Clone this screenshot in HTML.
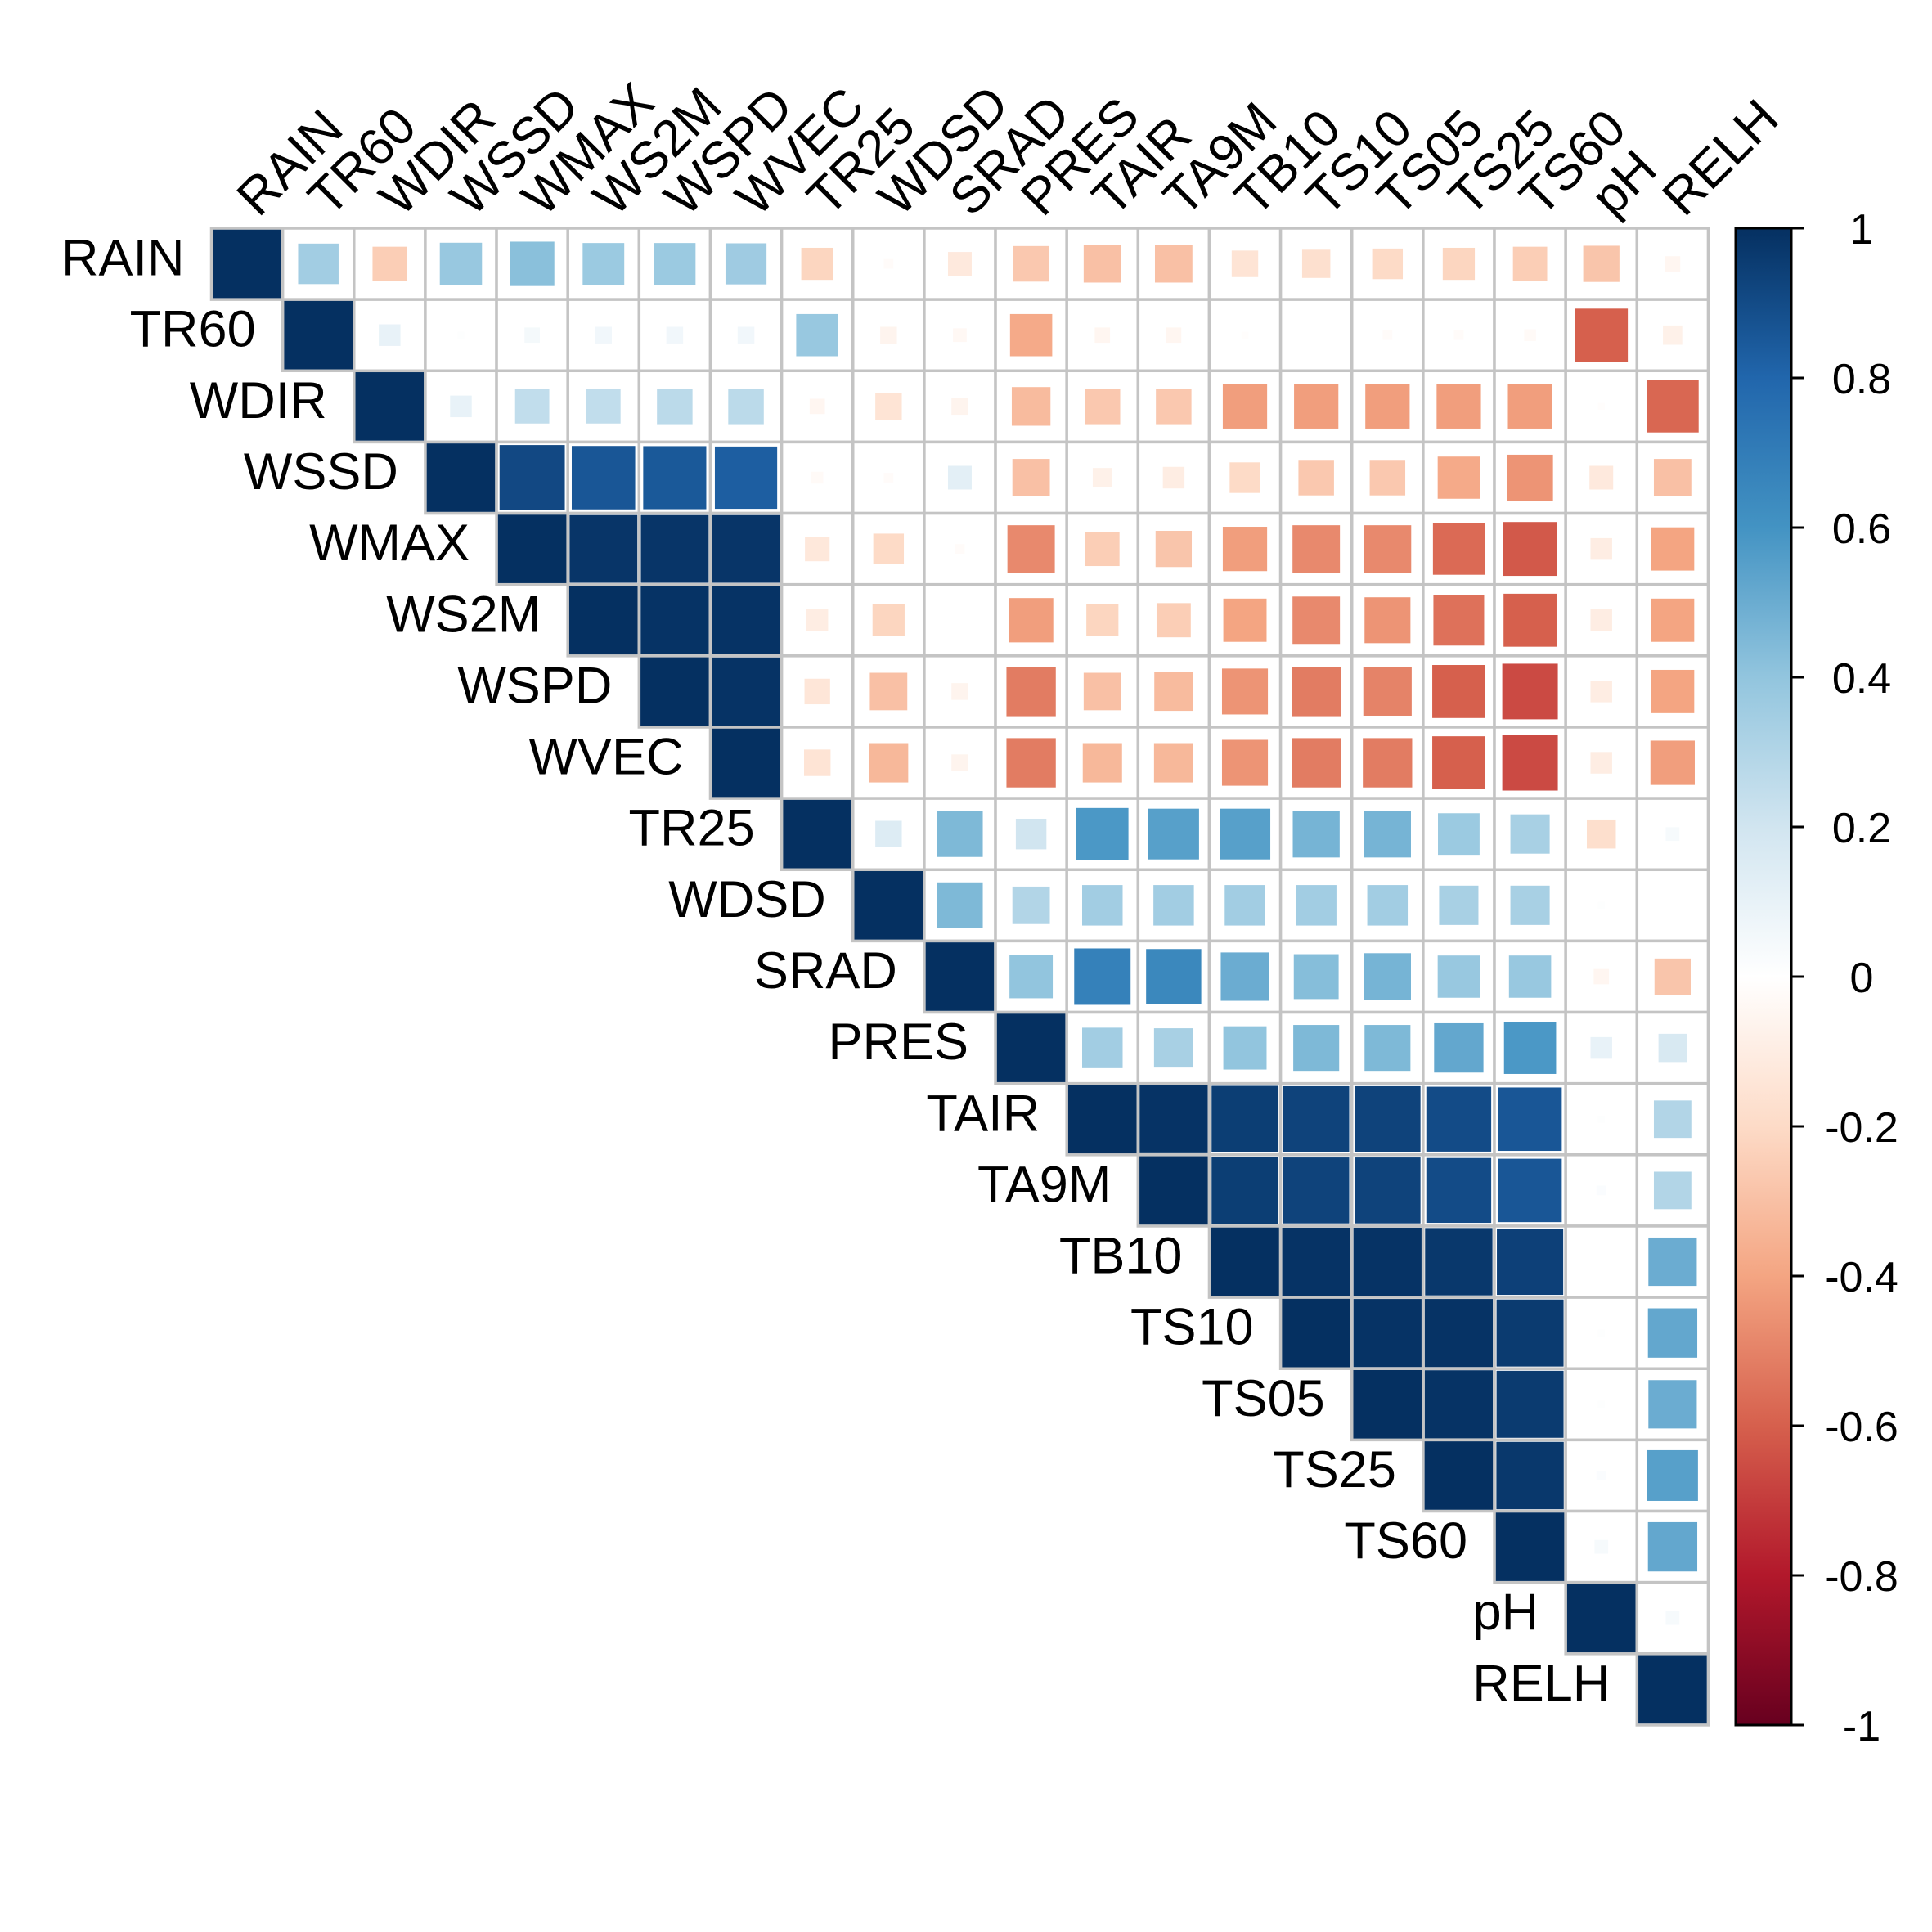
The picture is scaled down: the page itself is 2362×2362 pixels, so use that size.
<!DOCTYPE html>
<html><head><meta charset="utf-8"><style>
html,body{margin:0;padding:0;background:#fff;}
svg{display:block;font-family:"Liberation Sans",Arial,sans-serif;}
</style></head><body>
<svg id="chart" width="2362" height="2362" viewBox="0 0 2362 2362" xmlns="http://www.w3.org/2000/svg">
<defs><linearGradient id="cbgrad" x1="0" y1="1" x2="0" y2="0">
<stop offset="0" stop-color="#67001F"/><stop offset="0.1" stop-color="#B2182B"/><stop offset="0.2" stop-color="#D6604D"/><stop offset="0.3" stop-color="#F4A582"/><stop offset="0.4" stop-color="#FDDBC7"/><stop offset="0.5" stop-color="#FFFFFF"/><stop offset="0.6" stop-color="#D1E5F0"/><stop offset="0.7" stop-color="#92C5DE"/><stop offset="0.8" stop-color="#4393C3"/><stop offset="0.9" stop-color="#2166AC"/><stop offset="1" stop-color="#053061"/>
</linearGradient></defs>
<g id="cells"></g>
<g id="rowlabels"></g>
<g id="collabels"></g>
<g id="colorbar"></g>
</svg>
<script>
const vars = ["RAIN","TR60","WDIR","WSSD","WMAX","WS2M","WSPD","WVEC","TR25","WDSD","SRAD","PRES","TAIR","TA9M","TB10","TS10","TS05","TS25","TS60","pH","RELH"];
// upper triangle rows (values to the right of the diagonal)
const rowRAIN = [0.35,-0.25,0.38,0.42,0.37,0.37,0.36,-0.22,-0.02,-0.12,-0.27,-0.3,-0.3,-0.15,-0.17,-0.2,-0.22,-0.25,-0.28,-0.05];
const rowTR60 = [0.1,0.01,0.05,0.06,0.06,0.06,0.38,-0.06,-0.04,-0.38,-0.05,-0.05,-0.01,0,-0.02,-0.02,-0.03,-0.6,-0.08];
const rowWDIR = [0.1,0.25,0.25,0.27,0.27,-0.05,-0.15,-0.06,-0.32,-0.27,-0.27,-0.42,-0.42,-0.42,-0.42,-0.42,-0.01,-0.58];
const rowWSSD = [0.91,0.86,0.85,0.83,-0.03,-0.02,0.12,-0.3,-0.08,-0.1,-0.2,-0.27,-0.27,-0.38,-0.45,-0.12,-0.3];
const rowWMAX = [0.98,0.98,0.98,-0.13,-0.2,-0.02,-0.48,-0.25,-0.28,-0.42,-0.48,-0.48,-0.57,-0.62,-0.1,-0.4];
const rowWS2M = [0.99,0.99,-0.1,-0.22,0,-0.42,-0.22,-0.25,-0.4,-0.48,-0.45,-0.55,-0.6,-0.1,-0.4];
const rowWSPD = [0.99,-0.14,-0.3,-0.06,-0.52,-0.3,-0.32,-0.45,-0.52,-0.5,-0.6,-0.66,-0.1,-0.4];
const rowWVEC = [-0.15,-0.33,-0.06,-0.52,-0.33,-0.33,-0.45,-0.52,-0.52,-0.6,-0.66,-0.1,-0.42];
const rowTR25 = [0.15,0.45,0.2,0.58,0.55,0.55,0.47,0.47,0.37,0.33,-0.18,0.04];
const rowWDSD = [0.45,0.3,0.35,0.35,0.35,0.35,0.35,0.33,0.33,0.01,0];
const rowSRAD = [0.4,0.68,0.65,0.5,0.43,0.47,0.38,0.38,-0.05,-0.28];
const rowPRES = [0.35,0.33,0.4,0.45,0.45,0.52,0.58,0.1,0.17];
const rowTAIR = [0.99,0.95,0.93,0.93,0.9,0.86,0.01,0.3];
const rowTA9M = [0.95,0.93,0.93,0.9,0.86,0.02,0.3];
const rowTB10 = [0.99,0.99,0.97,0.94,0,0.5];
const rowTS10 = [0.99,0.99,0.96,0.01,0.52];
const rowTS05 = [0.99,0.96,0.01,0.5];
const rowTS25 = [0.97,0.02,0.55];
const rowTS60 = [0.04,0.52];
const rowPH = [0.04];
const rowRELH = [];
const upperRows = [rowRAIN,rowTR60,rowWDIR,rowWSSD,rowWMAX,rowWS2M,rowWSPD,rowWVEC,rowTR25,rowWDSD,rowSRAD,rowPRES,rowTAIR,rowTA9M,rowTB10,rowTS10,rowTS05,rowTS25,rowTS60,rowPH,rowRELH];
const cbTicks = [1,0.8,0.6,0.4,0.2,0,-0.2,-0.4,-0.6,-0.8,-1];
const cbLabels = ["1","0.8","0.6","0.4","0.2","0","-0.2","-0.4","-0.6","-0.8","-1"];

const NS="http://www.w3.org/2000/svg";
const gLeft=258.5, gTop=279, cell=87.14;
const xPos = j => gLeft + j*cell;
const yPos = i => gTop + i*cell;
const cbTop=279, cbBot=2109, cbL=2122, cbR=2190;
const cbY = v => cbTop + (1-v)/2*(cbBot-cbTop);
const stops=[[103,0,31],[178,24,43],[214,96,77],[244,165,130],[253,219,199],[255,255,255],[209,229,240],[146,197,222],[67,147,195],[33,102,172],[5,48,97]];
function color(v){
  const t=(v+1)/2*10; let i=Math.floor(t); if(i>=10)i=9; if(i<0)i=0; const f=t-i;
  const a=stops[i],b=stops[i+1];
  return "rgb("+a.map((c,k)=>Math.round(c+(b[k]-c)*f)).join(",")+")";
}
function mk(tag,attrs,parent){const e=document.createElementNS(NS,tag);for(const k in attrs)e.setAttribute(k,attrs[k]);parent.appendChild(e);return e;}
const gC=document.getElementById('cells');
const n=vars.length;
for(let i=0;i<n;i++){
  for(let j=i;j<n;j++){
    const v = (j===i)?1:upperRows[i][j-i-1];
    const x=xPos(j), y=yPos(i);
    const bg=mk('rect',{x:x,y:y,width:cell,height:cell,fill:'#fff',stroke:'#C4C4C4','stroke-width':3.5},gC);
    
    
    const s=Math.sqrt(Math.abs(v))*(cell-3.5);
    const sq=mk('rect',{x:x+cell/2-s/2,y:y+cell/2-s/2,width:s,height:s,fill:color(v)},gC);
    
    
  }
}
const gR=document.getElementById('rowlabels');
const gCl=document.getElementById('collabels');
for(let i=0;i<n;i++){
  const t=mk('text',{x:xPos(i)-33,y:yPos(i)+cell/2+14,'text-anchor':'end','font-size':63,fill:'#000'},gR);
  t.textContent=vars[i];
  
  
  const cx=xPos(i)+cell/2+14, cy=gTop-12;
  const c=mk('text',{x:cx,y:cy,'font-size':63,fill:'#000',transform:'rotate(-45 '+cx+' '+cy+')'},gCl);
  c.textContent=vars[i];
  
  
}
const gB=document.getElementById('colorbar');
const bar=mk('rect',{x:cbL,y:cbTop,width:cbR-cbL,height:cbBot-cbTop,fill:'url(#cbgrad)',stroke:'#000','stroke-width':3},gB);


cbTicks.forEach((v,k)=>{
  const y=cbY(v);
  const tk=mk('line',{x1:cbR,x2:2205,y1:y,y2:y,stroke:'#000','stroke-width':3},gB);
  
  
  const lb=mk('text',{x:2276,y:y+19,'text-anchor':'middle','font-size':52,fill:'#000'},gB);
  lb.textContent=cbLabels[k];
  
  
});
</script>
</body></html>
